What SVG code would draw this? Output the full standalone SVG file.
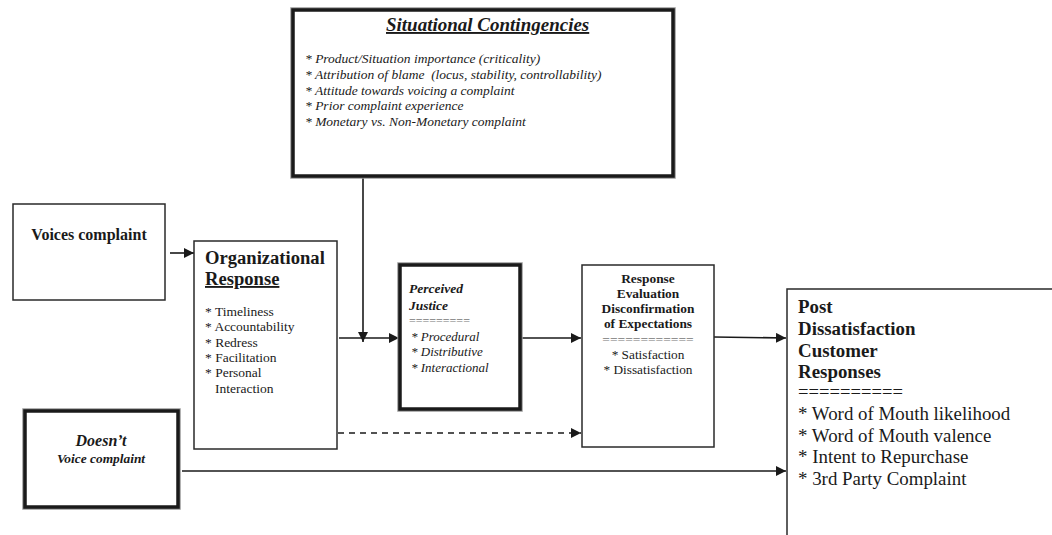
<svg xmlns="http://www.w3.org/2000/svg" width="1052" height="535" viewBox="0 0 1052 535">
<defs>
<marker id="ah" viewBox="0 0 10 10" refX="10" refY="5" markerWidth="10" markerHeight="10" markerUnits="userSpaceOnUse" orient="auto">
<path d="M0,0 L10,5 L0,10 Z" fill="#1a1a1a"/>
</marker>
<style>
text{font-family:"Liberation Serif","Times New Roman",serif;fill:#1a1a1a}
.box{fill:#fff;stroke:#2a2a2a;stroke-width:1.5}
.thick{fill:#fff;stroke:#1a1a1a;stroke-width:3.5}
.halo{fill:none;stroke:#999;stroke-width:5.5}
.b{font-weight:bold}
.i{font-style:italic}
.conn{stroke:#1a1a1a;stroke-width:1.6;fill:none}
.gray{fill:#777}
</style>
</defs>
<g id="connectors">
<line class="conn" x1="170" y1="253" x2="194" y2="253" marker-end="url(#ah)"/>
<line class="conn" x1="363" y1="178" x2="363" y2="342" marker-end="url(#ah)"/>
<line class="conn" x1="339" y1="338" x2="399" y2="338" marker-end="url(#ah)"/>
<line class="conn" x1="521" y1="338" x2="581" y2="338" marker-end="url(#ah)"/>
<line class="conn" x1="714" y1="337" x2="786" y2="338" marker-end="url(#ah)"/>
<line class="conn" x1="338" y1="433" x2="581" y2="433" stroke-dasharray="6,5" marker-end="url(#ah)"/>
<line class="conn" x1="182" y1="471" x2="786" y2="471" marker-end="url(#ah)"/>
</g>
<g id="situational">
<rect class="halo" x="293" y="10" width="380" height="166"/>
<rect class="thick" x="293" y="10" width="380" height="166"/>
<text x="386" y="31" class="b i" font-size="19" text-decoration="underline">Situational Contingencies</text>
<g class="i" font-size="13.5">
<text x="305" y="63">* Product/Situation importance (criticality)</text>
<text x="305" y="79" xml:space="preserve">* Attribution of blame  (locus, stability, controllability)</text>
<text x="305" y="95">* Attitude towards voicing a complaint</text>
<text x="305" y="110">* Prior complaint experience</text>
<text x="305" y="126">* Monetary vs. Non-Monetary complaint</text>
</g>
</g>
<g id="voices">
<rect class="box" x="13" y="204" width="152" height="96"/>
<text x="89" y="240" text-anchor="middle" class="b" font-size="16">Voices complaint</text>
</g>
<g id="org">
<rect class="box" x="194" y="241" width="143" height="208"/>
<text x="205" y="264" class="b" font-size="18.6">Organizational</text>
<text x="205" y="285" class="b" font-size="18.6" text-decoration="underline">Response</text>
<g font-size="13.5">
<text x="205" y="316">* Timeliness</text>
<text x="205" y="331">* Accountability</text>
<text x="205" y="347">* Redress</text>
<text x="205" y="362">* Facilitation</text>
<text x="205" y="377">* Personal</text>
<text x="215" y="393">Interaction</text>
</g>
</g>
<g id="justice">
<rect class="halo" x="400" y="265" width="120" height="144"/>
<rect class="thick" x="400" y="265" width="120" height="144"/>
<text x="409" y="293" class="b i" font-size="13.5">Perceived</text>
<text x="409" y="310" class="b i" font-size="13.5">Justice</text>
<text x="409" y="325" class="gray" font-size="12">=========</text>
<g class="i" font-size="13">
<text x="411" y="341">* Procedural</text>
<text x="411" y="356">* Distributive</text>
<text x="411" y="372">* Interactional</text>
</g>
</g>
<g id="evaluation">
<rect class="box" x="582" y="265" width="132" height="182"/>
<g class="b" font-size="13.4" text-anchor="middle">
<text x="648" y="283">Response</text>
<text x="648" y="298">Evaluation</text>
<text x="648" y="313">Disconfirmation</text>
<text x="648" y="328">of Expectations</text>
</g>
<text x="648" y="344" text-anchor="middle" class="gray" font-size="13.5">============</text>
<text x="648" y="359" text-anchor="middle" font-size="13.3">* Satisfaction</text>
<text x="648" y="374" text-anchor="middle" font-size="13.3">* Dissatisfaction</text>
</g>
<g id="post">
<rect class="box" x="787" y="289" width="280" height="260"/>
<g class="b" font-size="18.9">
<text x="798" y="313">Post</text>
<text x="798" y="335">Dissatisfaction</text>
<text x="798" y="357">Customer</text>
<text x="798" y="378">Responses</text>
</g>
<text x="798" y="398" font-size="18.6">==========</text>
<g font-size="18.9">
<text x="798" y="420">* Word of Mouth likelihood</text>
<text x="798" y="442">* Word of Mouth valence</text>
<text x="798" y="463">* Intent to Repurchase</text>
<text x="798" y="485">* 3rd Party Complaint</text>
</g>
</g>
<g id="doesnt">
<rect class="halo" x="25" y="411" width="153" height="96"/>
<rect class="thick" x="25" y="411" width="153" height="96"/>
<text x="101" y="446" text-anchor="middle" class="b i" font-size="16">Doesn’t</text>
<text x="101" y="463" text-anchor="middle" class="b i" font-size="13.4">Voice complaint</text>
</g>
</svg>
